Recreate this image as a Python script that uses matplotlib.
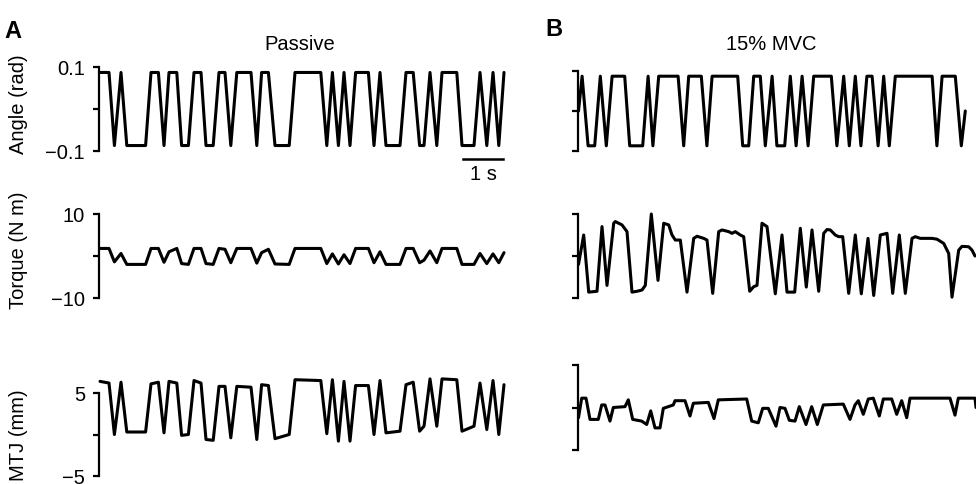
import matplotlib
matplotlib.use('Agg')
import matplotlib.pyplot as plt

plt.rcParams['font.family'] = ['Liberation Sans', 'DejaVu Sans']

# ---- Passive (A): corner times (s) and values ----
t_A = [0.00, 0.225, 0.36, 0.525, 0.67, 1.14, 1.275, 1.46, 1.60, 1.725,
       1.92, 2.04, 2.21, 2.35, 2.525, 2.65, 2.83, 2.975, 3.125, 3.27,
       3.42, 3.775, 3.92, 4.04, 4.21, 4.375, 4.73, 4.875, 5.52, 5.67,
       5.81, 5.96, 6.10, 6.25, 6.39, 6.71, 6.85, 7.00, 7.15, 7.50,
       7.65, 7.83, 7.99, 8.10, 8.25, 8.42, 8.55, 8.92, 9.05, 9.35,
       9.50, 9.67, 9.825, 9.97, 10.10]
angle_A = [0.087, 0.087, -0.087, 0.087, -0.087, -0.087, 0.087, 0.087, -0.087, 0.087,
           0.087, -0.087, -0.087, 0.087, 0.087, -0.087, -0.087, 0.087, 0.087, -0.087,
           0.087, 0.087, -0.087, 0.087, 0.087, -0.087, -0.087, 0.087, 0.087, -0.087,
           0.087, -0.087, 0.087, -0.087, 0.087, 0.087, -0.087, 0.087, -0.087, -0.087,
           0.087, 0.087, -0.087, -0.087, 0.087, -0.087, 0.087, 0.087, -0.087, -0.087,
           0.087, -0.087, 0.087, -0.087, 0.087]
torque_A = [1.8, 1.8, -1.4, 0.6, -2.0, -2.0, 1.8, 1.8, -1.5, 1.0,
            1.8, -1.8, -2.0, 1.8, 1.8, -1.8, -2.0, 1.8, 1.6, -1.6,
            1.8, 1.8, -1.7, 0.8, 1.6, -1.9, -2.0, 1.8, 1.8, -1.8,
            0.5, -1.9, 0.3, -1.8, 1.8, 1.8, -1.6, 1.0, -2.0, -2.0,
            1.8, 1.8, -1.6, -1.0, 1.2, -1.6, 1.8, 1.8, -2.0, -2.0,
            0.6, -1.8, 0.5, -1.6, 0.8]
mtj_A = [6.4, 6.2, 0.0, 6.3, 0.3, 0.3, 6.1, 6.3, 0.2, 6.4,
         6.2, -0.1, 0.0, 6.5, 6.2, -0.6, -0.7, 5.8, 5.8, -0.4,
         5.8, 5.7, -0.6, 6.0, 5.9, -0.5, 0.0, 6.6, 6.5, 0.1,
         6.6, -0.8, 6.4, -0.8, 5.9, 5.9, 0.0, 6.5, 0.2, 0.4,
         6.0, 6.3, 0.4, 1.0, 6.7, 1.0, 6.7, 6.6, 0.4, 1.0,
         6.2, 0.6, 6.5, 0.0, 6.0]

# ---- 15% MVC (B) ----
t_angle_B = [0.00, 0.09, 0.24, 0.405, 0.545, 0.695, 0.84, 1.155, 1.28, 1.605,
             1.74, 1.86, 2.005, 2.49, 2.63, 2.755, 3.07, 3.21, 3.34, 3.98,
             4.105, 4.255, 4.38, 4.545, 4.67, 4.84, 4.96, 5.155, 5.295, 5.44,
             5.59, 5.74, 5.88, 6.32, 6.46, 6.63, 6.77, 6.92, 7.06, 7.21,
             7.34, 7.49, 7.63, 7.77, 7.92, 8.84, 8.96, 9.09, 9.42, 9.57,
             9.67]
angle_B = [0.0, 0.087, -0.087, -0.087, 0.087, -0.087, 0.087, 0.087, -0.087, -0.087,
           0.087, -0.087, 0.087, 0.087, -0.087, 0.087, 0.087, -0.087, 0.087, 0.087,
           -0.087, -0.087, 0.087, 0.087, -0.087, 0.087, -0.087, -0.087, 0.087, -0.087,
           0.087, -0.087, 0.087, 0.087, -0.087, 0.087, -0.087, 0.087, -0.087, 0.087,
           0.087, -0.087, 0.087, -0.087, 0.087, 0.087, -0.087, 0.087, 0.087, -0.087,
           0.0]

t_torque_B = [0.0, 0.13, 0.255, 0.4625, 0.5875, 0.7125, 0.88, 0.92, 1.0875, 1.2125,
              1.3375, 1.4625, 1.5875, 1.67, 1.82, 1.9875, 2.13, 2.255, 2.3375, 2.42,
              2.545, 2.7125, 2.88, 2.9625, 3.13, 3.2125, 3.355, 3.505, 3.5875, 3.755,
              3.8375, 3.92, 4.045, 4.13, 4.28, 4.38, 4.4625, 4.5875, 4.7125, 4.92,
              5.0875, 5.2125, 5.405, 5.545, 5.695, 5.8375, 6.005, 6.13, 6.2125, 6.295,
              6.42, 6.505, 6.605, 6.755, 6.92, 7.07, 7.2375, 7.38, 7.545, 7.7125,
              7.855, 8.02, 8.17, 8.3375, 8.42, 8.545, 8.67, 8.8375, 8.9625, 9.13,
              9.255, 9.3375, 9.505, 9.5875, 9.755, 9.8375, 9.9125]
torque_B = [-2.0, 5.0, -8.6, -8.4, 7.0, -7.0, 7.8, 8.2, 7.4, 5.8,
            -8.6, -8.4, -8.1, -7.0, 10.0, -5.8, 7.8, 7.4, 5.0, 3.8,
            3.8, -8.6, 4.2, 4.7, 4.2, 3.8, -8.9, 5.8, 6.2, 5.8,
            5.4, 5.8, 5.0, 4.6, -8.4, -7.3, -7.0, 7.8, 7.0, -9.0,
            5.0, -8.6, -8.6, 6.6, -7.4, 6.2, -8.4, 5.4, 6.3, 6.2,
            5.0, 4.6, 4.6, -8.9, 5.0, -9.0, 4.2, -9.4, 5.0, 5.4,
            -8.9, 5.0, -8.9, 4.2, 4.6, 4.2, 4.2, 4.2, 4.0, 3.0,
            0.6, -9.8, 1.4, 2.3, 2.2, 1.4, 0.0]

t_mtj_B = [0.0, 0.08, 0.1875, 0.2875, 0.495, 0.58, 0.6625, 0.7875, 0.87, 1.1625,
           1.245, 1.355, 1.58, 1.705, 1.805, 1.9125, 2.0375, 2.12, 2.245, 2.37,
           2.4125, 2.6625, 2.7875, 2.87, 3.245, 3.3875, 3.495, 4.205, 4.33, 4.495,
           4.605, 4.745, 4.9375, 5.0375, 5.1625, 5.27, 5.4125, 5.52, 5.6875, 5.83,
           5.97, 6.12, 6.62, 6.7875, 6.9125, 6.995, 7.12, 7.245, 7.37, 7.52,
           7.62, 7.83, 7.955, 8.08, 8.205, 8.2875, 9.2875, 9.4125, 9.495, 9.9125,
           9.9375]
mtj_B = [-1.2, 1.1, 1.1, -1.4, -1.4, 0.3, 0.3, -1.6, 0.0, 0.1,
         0.9, -1.4, -1.6, -2.0, -0.4, -2.4, -2.4, -0.1, 0.1, 0.3,
         0.8, 0.8, -1.0, 0.5, 0.6, -1.3, 0.9, 1.0, -1.6, -1.8,
         -0.1, -0.1, -2.2, 0.0, -0.1, -1.5, -1.6, 0.1, -2.0, 0.1,
         -2.0, 0.3, 0.4, -1.4, 0.3, 0.8, -0.8, 1.0, 1.1, -1.0,
         1.0, 1.0, -0.8, 0.8, -1.2, 1.1, 1.1, -0.9, 1.1, 1.1,
         0.0]

W, H = 976, 485
fig = plt.figure(figsize=(W / 100, H / 100), dpi=100)


def add_panel(x0, x1, y_top, y_bot, xlim, ylim, labels):
    ax = fig.add_axes([x0 / W, 1 - y_bot / H, (x1 - x0) / W, (y_bot - y_top) / H])
    ax.set_xlim(*xlim)
    ax.set_ylim(*ylim)
    for s in ['top', 'right', 'bottom']:
        ax.spines[s].set_visible(False)
    ax.spines['left'].set_linewidth(1.6)
    ax.spines['left'].set_bounds(*ylim)
    ax.set_xticks([])
    ax.set_yticks([ylim[0], 0, ylim[1]])
    ax.set_yticklabels(labels)
    ax.tick_params(axis='y', length=4, width=1.6, pad=6, labelsize=14.5)
    ax.patch.set_visible(False)
    return ax


def trace(ax, t, y):
    ax.plot(t, y, color='k', lw=2.2, clip_on=False,
            solid_joinstyle='round', solid_capstyle='round')


xl_A = (-0.025, 10.125)
xl_B = (-0.0125, 9.6875)

ax = add_panel(99, 505, 68, 152, xl_A, (-0.1, 0.1), ['\u22120.1', '', '0.1'])
trace(ax, t_A, angle_A)
ax.plot([9.075, 10.075], [-0.119, -0.119], color='k', lw=1.8, clip_on=False)
ax.text(9.575, -0.132, '1 s', ha='center', va='top', fontsize=14.5)
ax = add_panel(99, 505, 215, 299, xl_A, (-10, 10), ['\u221210', '', '10'])
trace(ax, t_A, torque_A)
ax = add_panel(99, 505, 394, 477, xl_A, (-5, 5), ['\u22125', '', '5'])
trace(ax, t_A, mtj_A)

ax = add_panel(578, 966, 72, 152, xl_B, (-0.1, 0.1), ['', '', ''])
trace(ax, t_angle_B, angle_B)
ax = add_panel(578, 966, 215, 299, xl_B, (-10, 10), ['', '', ''])
trace(ax, t_torque_B, torque_B)
ax = add_panel(578, 966, 366, 451, xl_B, (-5, 5), ['', '', ''])
trace(ax, t_mtj_B, mtj_B)

fig.text(300 / W, 1 - 44 / H, 'Passive', ha='center', va='center', fontsize=14.5)
fig.text(771 / W, 1 - 44 / H, '15% MVC', ha='center', va='center', fontsize=14.5)
fig.text(4 / W, 1 - 31 / H, 'A', ha='left', va='center', fontsize=17, fontweight='bold')
fig.text(545 / W, 1 - 30 / H, 'B', ha='left', va='center', fontsize=17, fontweight='bold')
for yc, lab in [(104, 'Angle (rad)'), (250, 'Torque (N m)'), (435, 'MTJ (mm)')]:
    fig.text(19 / W, 1 - yc / H, lab, ha='center', va='center', rotation=90, fontsize=14.5)

fig.savefig('out.png', dpi=100)
